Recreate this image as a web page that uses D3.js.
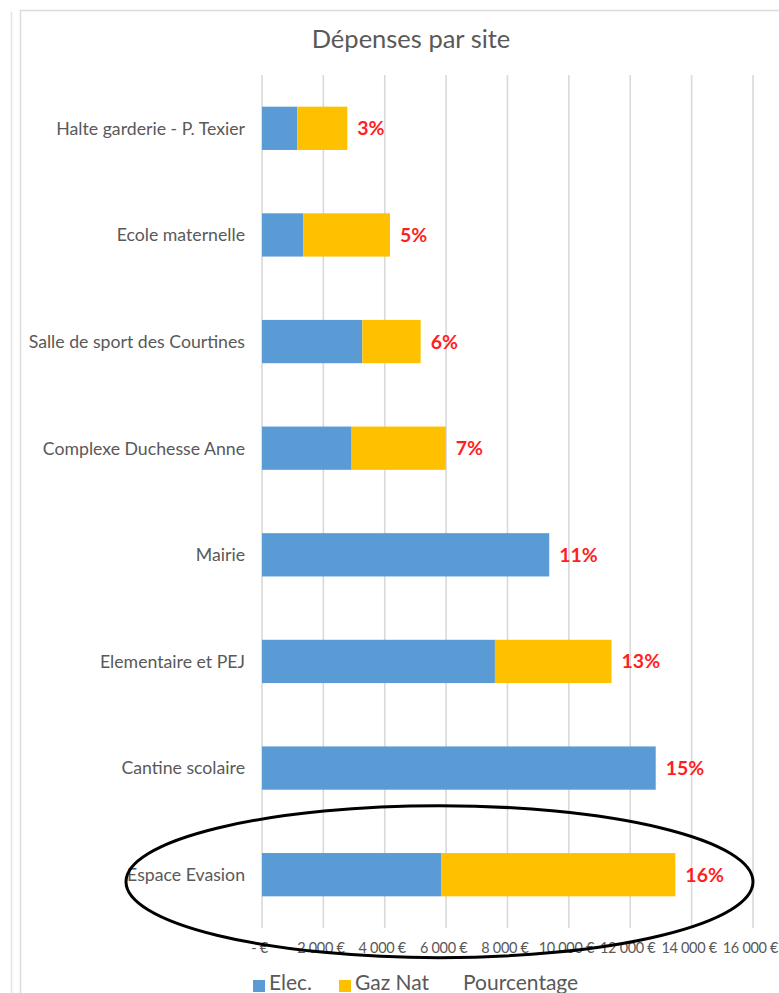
<!DOCTYPE html>
<html>
<head>
<meta charset="utf-8">
<script src="https://cdn.jsdelivr.net/npm/d3@7"></script>
<style>
  html, body { margin: 0; padding: 0; background: #ffffff; }
  svg { display: block; }
</style>
</head>
<body>
<svg id="chart" width="779" height="993"></svg>
<script>
// Sites, top to bottom
const sites = [
  "Halte garderie - P. Texier",
  "Ecole maternelle",
  "Salle de sport des Courtines",
  "Complexe Duchesse Anne",
  "Mairie",
  "Elementaire et PEJ",
  "Cantine scolaire",
  "Espace Evasion"
];
// Annual spend per site (€)
const elec   = [1150, 1340, 3270, 2920, 9360, 7590, 12830, 5850];
const gazNat = [1630, 2830, 1900, 3070,    0, 3800,     0, 7620];
// Share of total spend
const pourcentage = ["3%", "5%", "6%", "7%", "11%", "13%", "15%", "16%"];
// Value axis
const xTicks = [0, 2000, 4000, 6000, 8000, 10000, 12000, 14000, 16000];
const xTickLabels = ["-  €", "2 000 €", "4 000 €", "6 000 €", "8 000 €", "10 000 €", "12 000 €", "14 000 €", "16 000 €"];
const seriesNames = ["Elec.", "Gaz Nat", "Pourcentage"];
const seriesColors = ["#5B9BD5", "#FFC000", "none"];
const highlightedSite = "Espace Evasion";

const svg = d3.select("#chart");
const FONT = "Lato, 'Open Sans', sans-serif";
const TEXT = "#595959";
const GRID = "#D9D9D9";

// Frame lines of the panels
svg.append("line").attr("x1", 11.5).attr("x2", 11.5).attr("y1", 12).attr("y2", 993)
  .attr("stroke", "#E3E3E3").attr("stroke-width", 1.5);
svg.append("path").attr("d", "M20.5,993V10.5H779")
  .attr("fill", "none").attr("stroke", "#DCDCDC").attr("stroke-width", 1.5);

// Title
svg.append("text")
  .attr("x", 411).attr("y", 48)
  .attr("text-anchor", "middle")
  .attr("font-family", FONT).attr("font-size", 25.5)
  .attr("fill", TEXT)
  .text("Dépenses par site");

const x = d3.scaleLinear().domain([0, 16000]).range([262, 753]);
const y = d3.scaleBand().domain(sites).range([75, 928])
  .paddingInner(0.594).paddingOuter(0.297);

// Vertical gridlines
svg.append("g").selectAll("line").data(xTicks).join("line")
  .attr("x1", d => x(d)).attr("x2", d => x(d))
  .attr("y1", 75).attr("y2", 928)
  .attr("stroke", GRID).attr("stroke-width", 1.6);

// Stacked bars
const rows = sites.map((s, i) => ({ site: s, elec: elec[i], gaz: gazNat[i], pct: pourcentage[i] }));
const stack = d3.stack().keys(["elec", "gaz"])(rows);
svg.append("g").selectAll("g").data(stack).join("g")
  .attr("fill", (d, i) => seriesColors[i])
  .selectAll("rect").data(d => d).join("rect")
  .attr("x", d => x(d[0]))
  .attr("width", d => x(d[1]) - x(d[0]))
  .attr("y", d => y(d.data.site))
  .attr("height", y.bandwidth());

// Percentage labels at the end of each bar
svg.append("g").selectAll("text").data(rows).join("text")
  .attr("x", d => x(d.elec + d.gaz) + 10)
  .attr("y", d => y(d.site) + y.bandwidth() / 2)
  .attr("dy", "0.36em")
  .attr("font-family", FONT).attr("font-weight", "bold").attr("font-size", 19.5)
  .attr("fill", "#FF1F1F")
  .text(d => d.pct);

// Category axis labels
svg.append("g").selectAll("text").data(sites).join("text")
  .attr("x", 245)
  .attr("y", d => y(d) + y.bandwidth() / 2)
  .attr("dy", "0.36em")
  .attr("text-anchor", "end")
  .attr("font-family", FONT).attr("font-size", 17.7)
  .attr("fill", TEXT)
  .text(d => d);

// Value axis labels
const xAxis = d3.axisBottom(x).tickValues(xTicks)
  .tickFormat((d, i) => xTickLabels[i]).tickSize(0).tickPadding(0);
const gx = svg.append("g").attr("transform", "translate(-3,941)").call(xAxis);
gx.select(".domain").remove();
gx.selectAll("text")
  .attr("font-family", FONT).attr("font-size", 14.5)
  .attr("letter-spacing", "-0.3px")
  .attr("fill", TEXT).attr("dy", "0.85em");

// Legend
const legendX = [253, 339, 463];
const lg = svg.append("g");
seriesNames.forEach((name, i) => {
  if (seriesColors[i] !== "none") {
    lg.append("rect").attr("x", legendX[i]).attr("y", 980)
      .attr("width", 12).attr("height", 12).attr("fill", seriesColors[i]);
  }
  lg.append("text")
    .attr("x", seriesColors[i] !== "none" ? legendX[i] + 16 : legendX[i])
    .attr("y", 990)
    .attr("font-family", FONT).attr("font-size", 21)
    .attr("fill", TEXT)
    .text(name);
});

// Highlight ring around the largest site
const yc = y(highlightedSite) + y.bandwidth() / 2 + 7;
const left = x(0) - 136, right = x(16000);
svg.append("ellipse")
  .attr("cx", (left + right) / 2).attr("cy", yc)
  .attr("rx", (right - left) / 2).attr("ry", 76)
  .attr("fill", "none").attr("stroke", "#000").attr("stroke-width", 3);
</script>
</body>
</html>
